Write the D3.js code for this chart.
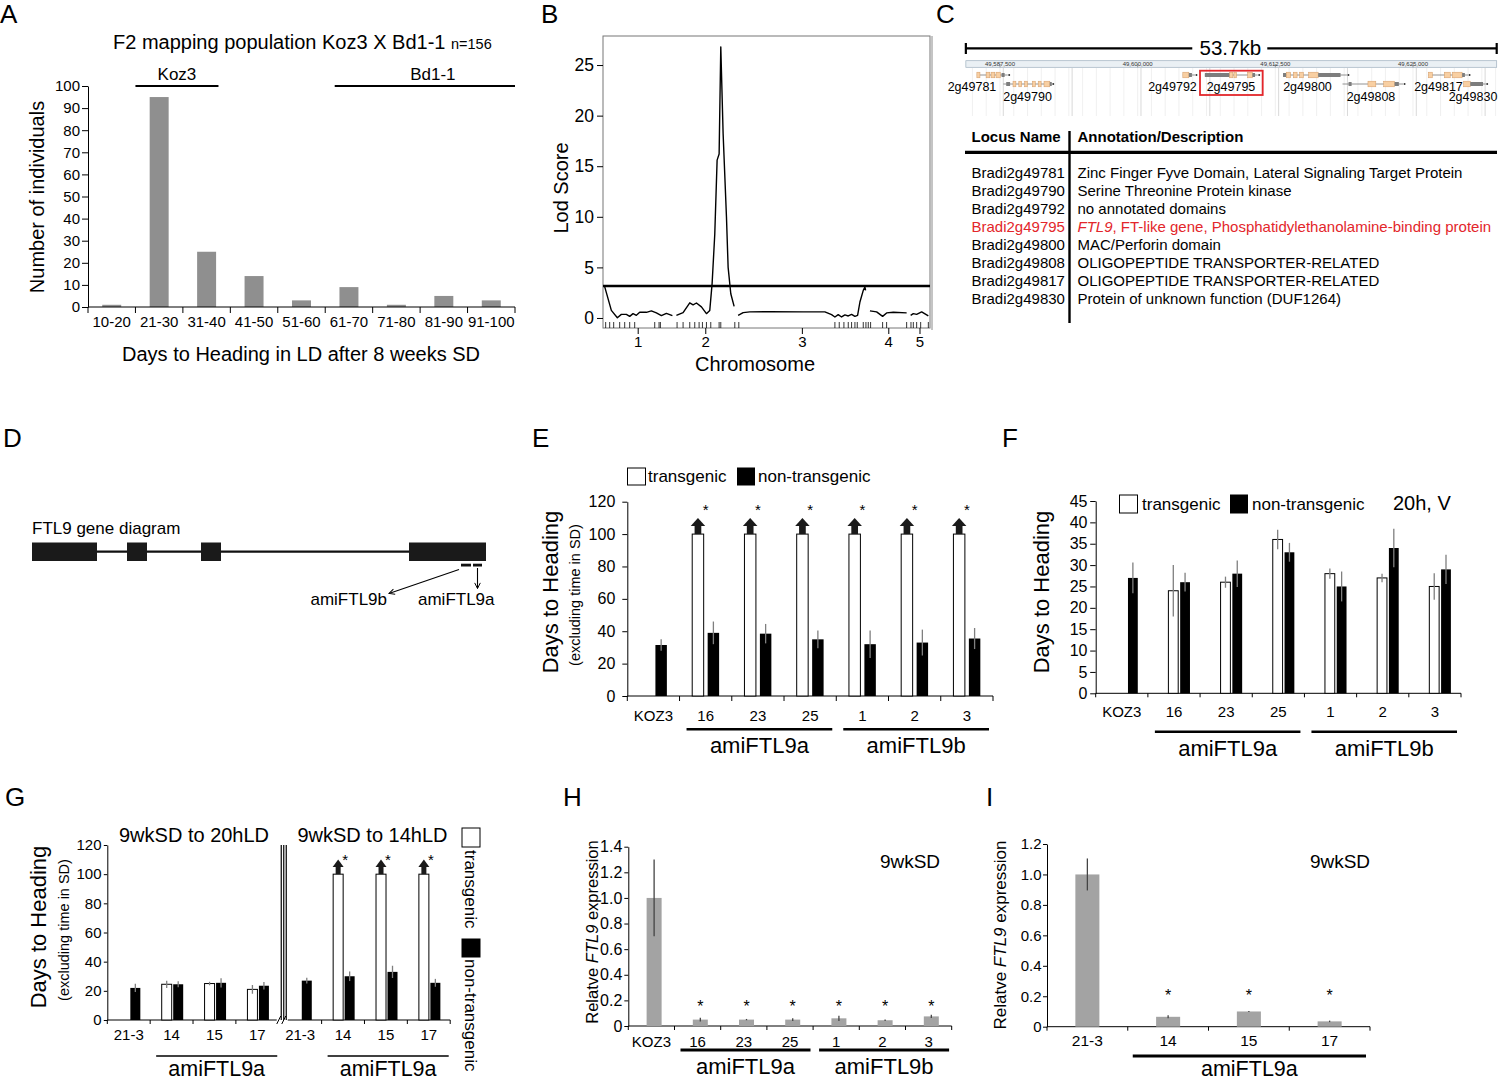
<!DOCTYPE html>
<html><head><meta charset="utf-8">
<script src="https://cdn.jsdelivr.net/npm/d3@7/dist/d3.min.js"></script>
<style>body{margin:0;background:#fff}</style>
</head><body>
<svg id="fig" width="1500" height="1080" xmlns="http://www.w3.org/2000/svg"></svg>
<script>
// ======================= DATA =======================
// Panel A – F2 histogram
const aCategories = ["10-20","21-30","31-40","41-50","51-60","61-70","71-80","81-90","91-100"];
const aCounts = [1,95,25,14,3,9,1,5,3];
const aTicks = [0,10,20,30,40,50,60,70,80,90,100];
const aGroupNames = ["Koz3","Bd1-1"];
const aGroupFrom = [1,5.2];      // in category units
const aGroupTo = [2.75,9];

// Panel B – LOD scan (cM within chromosome, LOD)
const bChromosomes = ["1","2","3","4","5"];
const bChromOffset = [0,110,202.5,400,461];
const bChromLength = [104,86.5,191,55,26.5];
const bLodChr1 = [[2.5,3.1],[12.5,0.75],[21.5,0.03],[27.5,0.36],[35,0.36],[40,0.16],[45,0.43],[50,0.26],[55,0.56],[65,0.56],[72.5,0.7],[80,0.5],[87.5,0.23],[95,0.46],[104,0.23]];
const bLodChr2 = [[0,0.26],[10,0.53],[20,1.5],[25,1.3],[30,1.48],[37.5,1.1],[45,0.43],[50,0.75],[53.5,3.4],[57.5,8.3],[61,15.6],[64,16.2],[66.5,26.8],[70,18.2],[75,10.0],[77.5,5.0],[81.5,2.4],[86.5,1.15]];
const bLodChr3 = [[0,0.26],[7.5,0.53],[17.5,0.6],[47.5,0.63],[97.5,0.6],[130,0.6],[140,0.33],[145,0.1],[150,0.33],[155,0.1],[160,0.3],[165,0.2],[170,0.36],[175,0.16],[179,0.26],[182.5,1.58],[187.5,2.73],[190,3.06],[191,2.73]];
const bLodChr4 = [[0,0.7],[10,0.6],[19,0.16],[25,0.5],[35,0.56],[55,0.5]];
const bLodChr5 = [[0,0.26],[4,0.43],[9,0.36],[16.5,0.6],[26.5,0.2]];
const bMarkers = [4,10,16,25,32.5,40,47.5,77.5,84,86,111,120,130,137.5,144,149,155,161.5,174,176.5,197.5,203.5,347.5,354,361,367.5,372.5,377.5,381,390,394,397.5,401,419,425,455,461.5,465,470,476,487.5];
const bLodTicks = [0,5,10,15,20,25];
const bThreshold = 3.16;

// Panel C – genomic region and annotation table
const cScaleLabel = "53.7kb";
const cRegion = [49584400,49632600];
const cRulerTicks = [49587500,49600000,49612500,49625000];
const cGeneNames = ["2g49781","2g49790","2g49792","2g49795","2g49800","2g49808","2g49817","2g49830"];
const cGeneStarts = [49585400,49587800,49604100,49606100,49613200,49618600,49626400,49629600];
const cGeneEnds = [49588200,49592200,49605200,49610900,49619000,49624100,49630000,49631600];
const cGeneRows = [0,1,0,0,0,1,0,1];
const cGeneLabelAt = [49584958,49590000,49603163,49608475,49615421,49621187,49627316,49630449];
const cGeneExons = [
  [[0,0.1,"o"],[0.3,0.42,"o"],[0.46,0.58,"o"],[0.62,0.76,"o"],[0.8,0.9,"g"]],
  [[0.06,0.14,"g"],[0.2,0.26,"o"],[0.32,0.38,"o"],[0.44,0.5,"o"],[0.6,0.66,"o"],[0.72,0.78,"o"],[0.84,0.96,"o"],[0.96,1,"g"]],
  [[0,0.5,"o"],[0.5,0.75,"g"]],
  [[0,0.47,"g"],[0.47,0.53,"o"],[0.55,0.6,"o"],[0.81,0.9,"o"],[0.9,0.95,"g"]],
  [[0,0.05,"g"],[0.05,0.12,"o"],[0.16,0.22,"o"],[0.26,0.32,"o"],[0.4,0.55,"o"],[0.55,0.9,"g"]],
  [[0.1,0.15,"g"],[0.42,0.55,"o"],[0.68,0.86,"o"],[0.86,0.93,"g"]],
  [[0,0.1,"o"],[0.4,0.55,"o"],[0.6,0.85,"o"],[0.85,0.92,"g"]],
  [[0,0.3,"o"],[0.3,0.88,"g"]]
];
const cHighlight = "2g49795";
const cLocusNames = ["Bradi2g49781","Bradi2g49790","Bradi2g49792","Bradi2g49795","Bradi2g49800","Bradi2g49808","Bradi2g49817","Bradi2g49830"];
const cAnnotations = ["Zinc Finger Fyve Domain, Lateral Signaling Target Protein","Serine Threonine Protein kinase","no annotated domains","FTL9|, FT-like gene, Phosphatidylethanolamine-binding protein","MAC/Perforin domain","OLIGOPEPTIDE TRANSPORTER-RELATED","OLIGOPEPTIDE TRANSPORTER-RELATED","Protein of unknown function (DUF1264)"];

// Panel D – FTL9 gene model (schematic units)
const dGeneLength = 454;
const dExons = [[0,65],[95,115],[169,189],[377,454]];
const dTargetB = [429,439];
const dTargetA = [441,450];

// Panel E
const eCategories = ["KOZ3","16","23","25","1","2","3"];
const eTransgenic = [null,100,100,100,100,100,100];
const eTransgenicAbove = [false,true,true,true,true,true,true];
const eNonTransgenic = [31.5,39,38.5,35,32,33,35.5];
const eNonTransgenicErr = [3.5,7,6,5.5,8.5,8,6.5];
const eSignificant = [false,true,true,true,true,true,true];
const eTicks = [0,20,40,60,80,100,120];
const eGroupNames = ["amiFTL9a","amiFTL9b"];
const eGroupFrom = [1,4];
const eGroupTo = [3,6];

// Panel F
const fCategories = ["KOZ3","16","23","25","1","2","3"];
const fTransgenic = [null,24,26,36,28,27,25];
const fTransgenicErr = [null,6,1.3,2.3,1.2,1,3.1];
const fNonTransgenic = [27,26,28,33,25,34,29];
const fNonTransgenicErr = [3.6,2.2,3.1,2.2,3.5,4.5,3.4];
const fTicks = [0,5,10,15,20,25,30,35,40,45];

// Panel G
const gCategories = ["21-3","14","15","17","21-3","14","15","17"];
const gConditions = ["9wkSD to 20hLD","9wkSD to 14hLD"];
const gTransgenic = [null,24.5,25,21,null,100,100,100];
const gTransgenicErr = [null,2.5,1.2,3,null,null,null,null];
const gTransgenicAbove = [false,false,false,false,false,true,true,true];
const gNonTransgenic = [22,24.5,25.5,23.5,27,30,33,25.5];
const gNonTransgenicErr = [2.8,2,3.2,2.5,2,3.3,4.2,2.7];
const gSignificant = [false,false,false,false,false,true,true,true];
const gTicks = [0,20,40,60,80,100,120];

// Panel H
const hCategories = ["KOZ3","16","23","25","1","2","3"];
const hExpression = [1.0,0.05,0.05,0.05,0.06,0.045,0.075];
const hExpressionErr = [0.3,0.015,0.005,0.01,0.02,0.005,0.012];
const hSignificant = [false,true,true,true,true,true,true];
const hTicks = [0,0.2,0.4,0.6,0.8,1.0,1.2,1.4];

// Panel I
const iCategories = ["21-3","14","15","17"];
const iExpression = [1.0,0.065,0.1,0.035];
const iExpressionErr = [0.105,0.01,0.003,0.005];
const iSignificant = [false,true,true,true];
const iTicks = [0,0.2,0.4,0.6,0.8,1.0,1.2];

// ======================= DRAWING =======================
const FONT = '"Liberation Sans", Arial, Helvetica, sans-serif';
const svg = d3.select("#fig").attr("font-family", FONT);

function txt(x, y, s, size, o = {}) {
  const t = svg.append("text").attr("x", x).attr("y", y).attr("font-size", size)
    .attr("fill", o.fill || "#000").text(s);
  if (o.anchor) t.attr("text-anchor", o.anchor);
  if (o.weight) t.attr("font-weight", o.weight);
  if (o.style) t.attr("font-style", o.style);
  if (o.rotate !== undefined) t.attr("transform", `rotate(${o.rotate},${x},${y})`);
  return t;
}
function line(x1, y1, x2, y2, w = 1, c = "#000") {
  return svg.append("line").attr("x1", x1).attr("y1", y1).attr("x2", x2).attr("y2", y2)
    .attr("stroke", c).attr("stroke-width", w);
}
function styleAxis(g, size) {
  g.attr("font-family", FONT).attr("font-size", size);
  g.selectAll("path,line").attr("stroke", "#000");
  g.selectAll("text").attr("fill", "#000");
}
const fmtDec = d => d === 0 ? "0" : d3.format(".1f")(d);

// Panel letters
[["A",0,23],["B",541,23],["C",936,23],["D",3,447],["E",532,447],["F",1002,447],["G",5,806],["H",563,806],["I",986,806]]
  .forEach(([l,x,y]) => txt(x, y, l, 26));

// ---------- Panel A ----------
(function(){
  const x = d3.scaleBand().domain(aCategories).range([88,515]).paddingInner(0.6).paddingOuter(0.3);
  const y = d3.scaleLinear().domain([0,100]).range([307,86]);
  const step = x.step();
  const pos = u => 88 + u * step;
  svg.append("g").selectAll("rect").data(aCounts).join("rect")
    .attr("x", (d,i) => x(aCategories[i])).attr("width", x.bandwidth())
    .attr("y", d => y(d)).attr("height", d => y(0) - y(d)).attr("fill", "#8f8f8f");
  const ga = svg.append("g").attr("transform","translate(88,0)")
    .call(d3.axisLeft(y).tickValues(aTicks).tickSize(6).tickPadding(2).tickSizeOuter(0));
  styleAxis(ga, 15);
  line(88, 307, 515, 307);
  d3.range(aCategories.length + 1).forEach(i => line(pos(i), 307, pos(i), 313));
  aCategories.forEach((c,i) => txt(x(c) + x.bandwidth()/2, 326.5, c, 15, {anchor:"middle"}));
  aGroupNames.forEach((g,i) => {
    line(pos(aGroupFrom[i]), 86, pos(aGroupTo[i]), 86, 2);
    const cx = (pos(aGroupFrom[i]) + pos(aGroupTo[i])) / 2 + (i === 1 ? 8 : 0);
    txt(cx, 80, g, 17, {anchor:"middle"});
  });
  const t = txt(113, 49, "F2 mapping population Koz3 X Bd1-1 ", 20);
  t.append("tspan").attr("font-size", 14.5).text("n=156");
  txt(301, 360.5, "Days to Heading in LD after 8 weeks SD", 20, {anchor:"middle"});
  txt(44, 197, "Number of individuals", 20, {anchor:"middle", rotate:-90});
})();

// ---------- Panel B ----------
(function(){
  const x = d3.scaleLinear().domain([0,490]).range([603,930]);
  const y = d3.scaleLinear().domain([-0.99,27.87]).range([328,36]);
  svg.append("rect").attr("x",603).attr("y",36).attr("width",327).attr("height",292)
    .attr("fill","none").attr("stroke","#777").attr("stroke-width",1);
  const ga = svg.append("g").attr("transform","translate(603,0)")
    .call(d3.axisLeft(y).tickValues(bLodTicks).tickSize(6).tickPadding(3));
  ga.select(".domain").remove();
  styleAxis(ga, 17.5);
  const centers = bChromosomes.map((c,i) => bChromOffset[i] + bChromLength[i]/2);
  const gx = svg.append("g").attr("transform","translate(0,328)")
    .call(d3.axisBottom(x).tickValues(centers).tickFormat((d,i) => bChromosomes[i]).tickSize(6).tickPadding(2));
  gx.select(".domain").remove();
  styleAxis(gx, 15);
  const series = [bLodChr1,bLodChr2,bLodChr3,bLodChr4,bLodChr5];
  const ln = d3.line().x(d => d[0]).y(d => y(d[1]));
  series.forEach((s,i) => {
    svg.append("path").attr("d", ln(s.map(p => [x(bChromOffset[i] + p[0]), p[1]])))
      .attr("fill","none").attr("stroke","#000").attr("stroke-width",1.4).attr("stroke-linejoin","round");
  });
  line(603, y(bThreshold), 930, y(bThreshold), 2.6);
  bMarkers.forEach(m => line(x(m), 322, x(m), 328, 0.8));
  txt(755, 371, "Chromosome", 20, {anchor:"middle"});
  txt(567.5, 188, "Lod Score", 20, {anchor:"middle", rotate:-90});
})();

// ---------- Panel C ----------
(function(){
  const x = d3.scaleLinear().domain([49587500,49625000]).range([1000,1413]);
  const x0 = x(cRegion[0]), x1 = x(cRegion[1]);
  line(932, 36, 932, 330, 1, "#8a8a8a");
  const mid = (x0 + x1) / 2;
  line(x0, 48.3, mid - 39, 48.3, 2.2);
  line(mid + 36, 48.3, x1, 48.3, 2.2);
  line(x0, 43, x0, 54, 2.2); line(x1, 43, x1, 54, 2.2);
  txt(mid - 1, 55, cScaleLabel, 20.5, {anchor:"middle"});
  d3.range(cRegion[0] + 600, cRegion[1], 1250).forEach(b => line(x(b), 68, x(b), 116, 0.6, "#e6e6e6"));
  d3.range(49587800, cRegion[1], 6250).forEach(b => line(x(b), 68, x(b), 116, 0.8, "#cfcfcf"));
  svg.append("rect").attr("x",x0).attr("y",60.7).attr("width",x1-x0).attr("height",6.6)
    .attr("fill","#eaf0f4").attr("stroke","#9fb0bf").attr("stroke-width",0.7);
  cRulerTicks.forEach(b => {
    line(x(b), 64, x(b), 67.3, 0.6, "#666");
    txt(x(b), 65.5, d3.format(",")(b), 6, {anchor:"middle", fill:"#333"});
  });
  cGeneNames.forEach((g,i) => {
    const gy = cGeneRows[i] === 0 ? 75 : 84;
    const gs = x(cGeneStarts[i]), ge = x(cGeneEnds[i]), w = ge - gs;
    line(gs, gy, ge, gy, 0.8, "#777");
    cGeneExons[i].forEach(([a,b,k]) => {
      svg.append("rect").attr("x", gs + a*w).attr("width", Math.max(1,(b-a)*w))
        .attr("y", k === "o" ? gy - 2.8 : gy - 2).attr("height", k === "o" ? 5.6 : 4)
        .attr("fill", k === "o" ? "#f8cfa2" : "#7d7d7d")
        .attr("stroke", k === "o" ? "#d29a64" : "none").attr("stroke-width", 0.5);
    });
    svg.append("circle").attr("cx", ge + 1.5).attr("cy", gy).attr("r", 1).attr("fill", "#333");
    const ly = cGeneRows[i] === 0 ? 90.5 : 101;
    txt(x(cGeneLabelAt[i]), ly, g, 12.5, {anchor:"middle"});
    if (g === cHighlight) {
      svg.append("rect").attr("x", x(cGeneLabelAt[i]) - 31).attr("y", 70.7).attr("width", 62.7).attr("height", 24.3)
        .attr("fill","none").attr("stroke","#e3262b").attr("stroke-width",1.8);
    }
  });
  txt(971.5, 142, "Locus Name", 15, {weight:"bold"});
  txt(1077.5, 142, "Annotation/Description", 15, {weight:"bold"});
  line(965, 152.3, 1497, 152.3, 3.2);
  line(1069.5, 131, 1069.5, 323, 2.4);
  const rowY = d3.scaleLinear().domain([0,1]).range([177.7,195.7]);
  cLocusNames.forEach((n,i) => {
    const red = n === "Bradi" + cHighlight;
    const col = red ? "#e3262b" : "#000";
    txt(971.5, rowY(i), n, 15, {fill: col});
    const parts = cAnnotations[i].split("|");
    const t = txt(1077.5, rowY(i), "", 15, {fill: col});
    if (parts.length > 1) {
      t.append("tspan").attr("font-style","italic").text(parts[0]);
      t.append("tspan").text(parts[1]);
    } else t.text(parts[0]);
  });
})();

// ---------- Panel D ----------
(function(){
  const x = d3.scaleLinear().domain([0,dGeneLength]).range([32,486]);
  const defs = svg.append("defs");
  defs.append("marker").attr("id","chev").attr("viewBox","0 0 10 10").attr("refX",9).attr("refY",5)
    .attr("markerWidth",7).attr("markerHeight",7).attr("markerUnits","userSpaceOnUse").attr("orient","auto")
    .append("path").attr("d","M1,1 L9,5 L1,9").attr("fill","none").attr("stroke","#000").attr("stroke-width",1.4);
  txt(32, 534, "FTL9 gene diagram", 17);
  line(x(0), 551.7, x(dGeneLength), 551.7, 2.2, "#111");
  dExons.forEach(([a,b]) => svg.append("rect").attr("x",x(a)).attr("y",542.5).attr("width",x(b)-x(a)).attr("height",18.5).attr("fill","#1a1a1a"));
  [dTargetB, dTargetA].forEach(([a,b]) => svg.append("rect").attr("x",x(a)).attr("y",563.7).attr("width",x(b)-x(a)).attr("height",2.8).attr("fill","#111"));
  line(x(dTargetB[0]) - 2, 569.5, 389, 593.5, 1.1).attr("marker-end","url(#chev)");
  const ax = (x(dTargetA[0]) + x(dTargetA[1])) / 2;
  line(ax, 568, ax, 588.5, 1.1).attr("marker-end","url(#chev)");
  txt(387, 605, "amiFTL9b", 17, {anchor:"end"});
  txt(418, 605, "amiFTL9a", 17);
})();

// ---------- generic bar chart ----------
function barChart(o) {
  const n = o.cats.length;
  const x = d3.scaleBand().domain(d3.range(n)).range([o.left, o.right]);
  const y = d3.scaleLinear().domain(o.yDomain).range([o.bottom, o.top]);
  const step = x.step();
  const ga = svg.append("g").attr("transform", `translate(${o.left},0)`)
    .call(d3.axisLeft(y).tickValues(o.ticks).tickFormat(o.fmt || (d => d))
      .tickSize(o.tickSize).tickPadding(o.tickPad).tickSizeOuter(0));
  styleAxis(ga, o.tickFont);
  if (o.breakAfter !== undefined) {
    const bx = o.left + (o.breakAfter + 1) * step;
    line(o.left, o.bottom, bx - 2, o.bottom);
    line(bx + 9, o.bottom, o.right, o.bottom);
    d3.range(n + 1).filter(i => i !== o.breakAfter + 1).forEach(i => line(o.left + i*step, o.bottom, o.left + i*step, o.bottom + o.xTick));
  } else {
    line(o.left, o.bottom, o.right, o.bottom);
    d3.range(n + 1).forEach(i => line(o.left + i*step, o.bottom, o.left + i*step, o.bottom + o.xTick));
  }
  o.cats.forEach((c,i) => txt(x(i) + step/2 + (o.catShift || 0), o.catY, c, o.catFont, {anchor:"middle"}));
  if (o.groups) o.groups.names.forEach((g,i) => {
    const gx0 = x(o.groups.from[i]) + o.groups.padL, gx1 = x(o.groups.to[i]) + step - o.groups.padR;
    line(gx0, o.groups.y, gx1, o.groups.y, o.groups.w);
    txt((gx0 + gx1)/2, o.groups.labelY, g, o.groups.size || 22, {anchor:"middle"});
  });
  return {x, y, step};
}
function drawSeries(ch, inner, key, values, errs, style, errColor) {
  values.forEach((v,i) => {
    if (v === null) return;
    const bx = ch.x(i) + inner(key), bw = inner.bandwidth();
    svg.append("rect").attr("x", bx).attr("y", ch.y(v)).attr("width", bw).attr("height", ch.y(0) - ch.y(v))
      .attr("fill", style.fill).attr("stroke", style.stroke || "none").attr("stroke-width", style.sw || 0);
    if (errs && errs[i]) line(bx + bw/2, ch.y(v - errs[i]), bx + bw/2, ch.y(v + errs[i]), 1.3, errColor || "#7f7f7f");
  });
}
function drawArrows(ch, inner, key, values, above, stemW, headW) {
  values.forEach((v,i) => {
    if (!above[i]) return;
    const cx = ch.x(i) + inner(key) + inner.bandwidth()/2;
    svg.append("rect").attr("x", cx - stemW/2).attr("y", ch.y(v + 5)).attr("width", stemW).attr("height", ch.y(v) - ch.y(v + 5)).attr("fill", "#1a1a1a");
    svg.append("path").attr("d", `M${cx - headW/2},${ch.y(v + 5)} L${cx + headW/2},${ch.y(v + 5)} L${cx},${ch.y(v + 10)} Z`).attr("fill", "#1a1a1a");
  });
}
function legendBox(x, y, w, h, filled) {
  svg.append("rect").attr("x", x).attr("y", y).attr("width", w).attr("height", h)
    .attr("fill", filled ? "#000" : "#fff").attr("stroke", "#000").attr("stroke-width", 1);
}

// ---------- Panel E ----------
(function(){
  const ch = barChart({cats:eCategories, left:627.3, right:993, top:501.7, bottom:696, yDomain:[0,120],
    ticks:eTicks, tickSize:5, tickPad:7, tickFont:16, xTick:5, catY:720.5, catFont:15,
    groups:{names:eGroupNames, from:eGroupFrom, to:eGroupTo, padL:7, padR:4, y:729.3, w:2.5, labelY:753}});
  const inner = d3.scaleBand().domain(["t","n"]).range([0, ch.step]).paddingInner(0.258).paddingOuter(0.82);
  drawSeries(ch, inner, "t", eTransgenic, null, {fill:"#fff", stroke:"#000", sw:1});
  drawSeries(ch, inner, "n", eNonTransgenic, eNonTransgenicErr, {fill:"#000"});
  drawArrows(ch, inner, "t", eTransgenic, eTransgenicAbove, 6.7, 14.5);
  eSignificant.forEach((s,i) => { if (s) txt(ch.x(i) + ch.step/2, ch.y(117) + 8.5, "*", 15, {anchor:"middle"}); });
  legendBox(627.5, 468, 18, 17, false); txt(648, 482, "transgenic", 17);
  legendBox(737.5, 468, 17, 17, true); txt(758, 482, "non-transgenic", 17);
  txt(557.5, 592, "Days to Heading", 22, {anchor:"middle", rotate:-90});
  txt(579.5, 595, "(excluding time in SD)", 14.5, {anchor:"middle", rotate:-90});
})();

// ---------- Panel F ----------
(function(){
  const ch = barChart({cats:fCategories, left:1095.7, right:1461, top:501, bottom:693.3, yDomain:[0,45],
    ticks:fTicks, tickSize:5.5, tickPad:2.7, tickFont:16, xTick:4, catY:717, catFont:15,
    groups:{names:eGroupNames, from:eGroupFrom, to:eGroupTo, padL:7, padR:4, y:731.7, w:2.5, labelY:756}});
  const inner = d3.scaleBand().domain(["t","n"]).range([0, ch.step]).paddingInner(0.1667).paddingOuter(1.3).align(0.67);
  drawSeries(ch, inner, "t", fTransgenic, fTransgenicErr, {fill:"#fff", stroke:"#000", sw:1});
  drawSeries(ch, inner, "n", fNonTransgenic, fNonTransgenicErr, {fill:"#000"});
  legendBox(1119.5, 495, 18, 18, false); txt(1142, 509.5, "transgenic", 17);
  legendBox(1230.5, 495, 17, 18, true); txt(1252, 509.5, "non-transgenic", 17);
  txt(1393, 510, "20h, V", 20);
  txt(1049, 592, "Days to Heading", 22, {anchor:"middle", rotate:-90});
})();

// ---------- Panel G ----------
(function(){
  const ch = barChart({cats:gCategories, left:107.3, right:450.2, top:845, bottom:1020, yDomain:[0,120],
    ticks:gTicks, tickSize:3.5, tickPad:2.3, tickFont:15, xTick:4, catY:1039.5, catFont:15, breakAfter:3,
    groups:{names:["amiFTL9a","amiFTL9a"], from:[1,5], to:[3,7], padL:6, padR:1.5, y:1056, w:1.5, labelY:1075.5, size:21.5}});
  const inner = d3.scaleBand().domain(["t","n"]).range([0, ch.step]).paddingInner(0.13).paddingOuter(0.93).align(0.54);
  drawSeries(ch, inner, "t", gTransgenic, gTransgenicErr, {fill:"#fff", stroke:"#000", sw:1});
  drawSeries(ch, inner, "n", gNonTransgenic, gNonTransgenicErr, {fill:"#000"});
  drawArrows(ch, inner, "t", gTransgenic, gTransgenicAbove, 5, 11);
  gSignificant.forEach((s,i) => { if (s) txt(ch.x(i) + inner("n") + 0.5, ch.y(112) + 8.5, "*", 15, {anchor:"middle"}); });
  const bx = ch.x(4);
  [-4.5,-2,0.5].forEach(d => line(bx + 7 + d, 845, bx + 7 + d, 1020, 1.2));
  line(bx - 2, 1024, bx + 2, 1016, 1); line(bx + 3, 1024, bx + 7, 1016, 1);
  txt((ch.x(0) + ch.x(3) + ch.step)/2 + 1, 842, gConditions[0], 20, {anchor:"middle"});
  txt((ch.x(4) + ch.x(7) + ch.step)/2 + 8, 842, gConditions[1], 20, {anchor:"middle"});
  legendBox(462, 828, 18, 19, false);
  txt(464.5, 850, "transgenic", 17, {rotate:90});
  legendBox(462, 939, 18, 18, true);
  txt(464.5, 959, "non-transgenic", 17, {rotate:90});
  txt(46, 927, "Days to Heading", 22, {anchor:"middle", rotate:-90});
  txt(69, 930, "(excluding time in SD)", 14.5, {anchor:"middle", rotate:-90});
})();

// ---------- Panel H ----------
(function(){
  const ch = barChart({cats:hCategories, left:628.3, right:951.7, top:846.7, bottom:1026, yDomain:[0,1.4],
    ticks:hTicks, fmt:fmtDec, tickSize:4, tickPad:2, tickFont:16, xTick:4, catY:1046.5, catFont:15,
    groups:{names:eGroupNames, from:eGroupFrom, to:eGroupTo, padL:6, padR:2.6, y:1050, w:3, labelY:1074}});
  const inner = d3.scaleBand().domain(["v"]).range([0, ch.step]).paddingOuter(1.04).align(0.587);
  drawSeries(ch, inner, "v", hExpression, hExpressionErr, {fill:"#a3a3a3"}, "#444");
  hSignificant.forEach((s,i) => { if (s) txt(ch.x(i) + inner("v") + inner.bandwidth()/2, 1012, "*", 16, {anchor:"middle"}); });
  txt(910, 868, "9wkSD", 19, {anchor:"middle"});
  const t = txt(597.5, 932, "Relatve ", 16.5, {anchor:"middle", rotate:-90});
  t.append("tspan").attr("font-style","italic").text("FTL9");
  t.append("tspan").text(" expression");
})();

// ---------- Panel I ----------
(function(){
  const ch = barChart({cats:iCategories, left:1047, right:1370, top:844, bottom:1026.7, yDomain:[0,1.2],
    ticks:iTicks, fmt:fmtDec, tickSize:4, tickPad:1.5, tickFont:15, xTick:4, catY:1045.5, catFont:15.5,
    groups:{names:["amiFTL9a"], from:[1], to:[3], padL:5, padR:4, y:1056, w:3, labelY:1075.5, size:21.5}});
  const inner = d3.scaleBand().domain(["v"]).range([0, ch.step]).paddingOuter(1.18).align(0.5);
  drawSeries(ch, inner, "v", iExpression, iExpressionErr, {fill:"#a3a3a3"}, "#444");
  iSignificant.forEach((s,i) => { if (s) txt(ch.x(i) + ch.step/2, 1001, "*", 16, {anchor:"middle"}); });
  txt(1340, 868, "9wkSD", 19, {anchor:"middle"});
  const t = txt(1006, 935, "Relatve ", 17, {anchor:"middle", rotate:-90});
  t.append("tspan").attr("font-style","italic").text("FTL9");
  t.append("tspan").text(" expression");
})();
</script>
</body></html>
